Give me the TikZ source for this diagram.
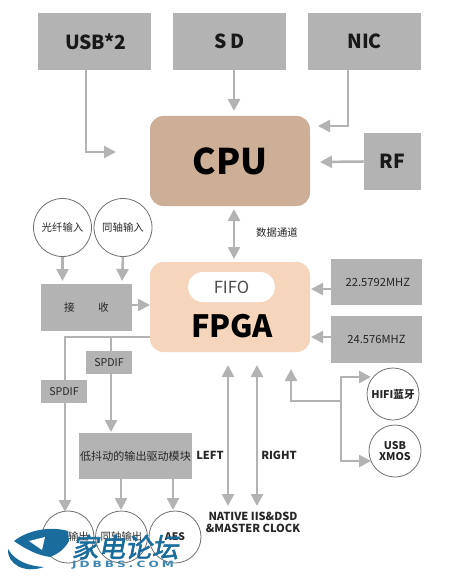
\documentclass[tikz,border=0pt]{standalone}
\usepackage{fontspec}
\setmainfont{Noto Sans CJK SC}
\newfontfamily\wmfont[FakeSlant=0.2,FakeBold=2]{Noto Sans CJK SC}
\newfontfamily\wmlatin[LetterSpace=25]{DejaVu Sans Bold}
\usetikzlibrary{arrows.meta}
\definecolor{boxgray}{HTML}{B3B3B3}
\definecolor{cpubrown}{HTML}{CDAE96}
\definecolor{fpgapeach}{HTML}{F5D6BC}
\definecolor{ringgray}{HTML}{707070}
\definecolor{txtdark}{HTML}{262626}
\definecolor{wmblue}{HTML}{1A6C9C}
\definecolor{wmlight}{HTML}{3F88B4}
\tikzset{
  x=0.75pt,y=-0.75pt,
  graybox/.style={fill=boxgray,draw=none,inner sep=0pt,text=txtdark},
  bigbox/.style={graybox,minimum width=85pt,minimum height=43pt,font=\bfseries\fontsize{14.5}{15}\selectfont,text=black!90},
  chip/.style={graybox,minimum width=34.5pt,minimum height=17.25pt,font=\fontsize{8}{8}\selectfont},
  clockbox/.style={graybox,minimum width=68pt,minimum height=35pt,font=\fontsize{8.4}{8.4}\selectfont},
  portc/.style={circle,draw=ringgray,line width=0.6pt,fill=white,minimum size=39pt,inner sep=0pt,font=\fontsize{7.8}{8}\selectfont,text=txtdark},
  wire/.style={draw=boxgray,line width=1.9pt,-{Triangle[length=9pt,width=9pt]}},
  dwire/.style={draw=boxgray,line width=1.9pt,{Triangle[length=9pt,width=9pt]}-{Triangle[length=9pt,width=9pt]}},
  plain/.style={draw=boxgray,line width=1.9pt},
  lab/.style={font=\bfseries\fontsize{8.3}{9}\selectfont,text=txtdark,inner sep=0pt,align=center},
}
\begin{document}
\begin{tikzpicture}
\useasboundingbox[fill=white] (0,0) rectangle (449,577);
% top row
\node[bigbox] (usb) at (94.5,41.5) {\hspace{2pt}USB*2};
\node[bigbox] (sd) at (229.5,41.5) {S D};
\node[bigbox] (nic) at (364.5,41.5) {NIC};
\node[graybox,minimum width=43pt,minimum height=43pt,font=\bfseries\fontsize{14.5}{15}\selectfont,text=black!90] (rf) at (392.5,161.5) {RF};
% processors
\node[fill=cpubrown,rounded corners=10pt,minimum width=120pt,minimum height=67.5pt,inner sep=0pt,font=\bfseries\fontsize{26.5}{28}\selectfont,text=black] (cpu) at (230,161) {CPU};
\node[fill=fpgapeach,rounded corners=10pt,minimum width=120pt,minimum height=67.5pt,inner sep=0pt] (fpga) at (230,307) {};
\node[fill=white,rounded corners=11pt,minimum width=65pt,minimum height=22.5pt,inner sep=0pt,font=\fontsize{12.5}{13}\selectfont,text=black!70] (fifo) at (231.5,287) {FIFO};
\node[font=\bfseries\fontsize{23}{23}\selectfont,text=black,inner sep=0pt] (fpgat) at (232,326) {FPGA};
% clocks
\node[clockbox,text width=68pt,align=center] (c1) at (376.5,282) {\hspace{2pt}22.5792MHZ};
\node[clockbox,text width=68pt,align=center] (c2) at (376.5,339.5) {24.576MHZ};
% inputs
\node[portc,minimum size=43.5pt] (opt) at (62.5,227.5) {光纤输入};
\node[portc,minimum size=43.5pt] (coax) at (123,227.5) {同轴输入};
\node[chip,minimum width=68pt,minimum height=35pt] (rx) at (86.5,307.5) {接\hspace{2.2em}收};
\node[chip] (sp1) at (109,362.5) {SPDIF};
\node[chip] (sp2) at (64,391.5) {SPDIF};
\node[graybox,minimum width=84.75pt,minimum height=34.5pt,font=\fontsize{8.3}{8.3}\selectfont] (drv) at (135.5,456) {低抖动的输出驱动模块};
% outputs
\node[portc] (o1) at (68,537) {光纤输出};
\node[portc] (o2) at (121.5,537) {同轴输出};
\node[portc,font=\bfseries\fontsize{7.8}{8}\selectfont] (o3) at (175,537) {AES};
% right ports
\node[portc,font=\bfseries\fontsize{8}{9}\selectfont,text=black!85] (hifi) at (393,394) {HIFI蓝牙};
\node[portc,font=\bfseries\fontsize{8}{9}\selectfont,text=black!85,align=center] (xmos) at (395,451) {USB\\[-1pt]XMOS};
% free ends
\coordinate (usbT) at (116,152);
\coordinate (usbB) at (86,70);
\coordinate (sdB) at (234,70);
\coordinate (sdT) at (234,111);
\coordinate (nicB) at (348,70);
\coordinate (nicT) at (318,126);
\coordinate (rfT) at (320,162);
\coordinate (cf1) at (234,209);
\coordinate (cf2) at (234,259);
\coordinate (rxTo) at (150,305);
\coordinate (fl) at (150,337);
\coordinate (l1) at (228,365);
\coordinate (l2) at (228,506);
\coordinate (r1) at (257,365);
\coordinate (r2) at (257,506);
\coordinate (m) at (291,369);
\coordinate (mj) at (341,401);
% connectors
\draw[wire] (usbB) -- (86,152) -- (usbT);
\draw[wire] (sdB) -- (sdT);
\draw[wire] (nicB) -- (348,126) -- (nicT);
\draw[wire] (rf.west) -- (rfT);
\draw[dwire] (cf1) -- (cf2);
\draw[wire] (opt.south) -- (62.5,281);
\draw[wire] (coax.south) -- (122,281);
\draw[wire] (rx.east|-rxTo) -- (rxTo);
\draw[wire] (c1.west|-0,289) -- (311,289);
\draw[wire] (c2.west|-0,337) -- (311,337);
\draw[plain] (fl) -- (65,337) -- (sp2.north-|65,0);
\draw[wire] (sp2.south-|65,0) -- (65,512);
\draw[plain] (111,337) -- (sp1.north-|111,0);
\draw[wire] (sp1.south-|111,0) -- (111,432);
\draw[wire] (121,479) -- (121,510);
\draw[wire] (173,479) -- (173,510);
\draw[dwire] (l1) -- (l2);
\draw[dwire] (r1) -- (r2);
\draw[wire] (mj) -- (291,401) -- (m);
\draw[wire] (mj) -- (341,377) -- (371,377);
\draw[wire] (mj) -- (341,461) -- (371,461);
% labels
\node[font=\fontsize{7.8}{9}\selectfont,text=txtdark,inner sep=0pt] (data) at (277,233) {数据通道};
\node[lab] (left) at (210,455) {LEFT};
\node[lab] (right) at (279,455) {RIGHT};
\node[lab,font=\bfseries\fontsize{8.3}{9}\selectfont] (native) at (253,522) {NATIVE IIS\&DSD\\\&MASTER CLOCK};
% watermark
\fill[wmblue] (14,541) .. controls (28,530) and (50,526) .. (68,531) -- (69,541) .. controls (65,548) and (60,553) .. (50,557) .. controls (36,555) and (24,548) .. (14,541) -- cycle;
\fill[white] (29,541) -- (45,537) -- (42,550) -- cycle;
\fill[wmblue] (8,549) .. controls (7,564) and (24,574) .. (44,567) .. controls (28,566) and (15,561) .. (8,549) -- cycle;
\node[font=\wmfont\fontsize{20}{20}\selectfont,text=wmblue,inner sep=0pt] (wm) at (125,547) {家电论坛};
\node[text=wmlight,inner sep=0pt] (wm2) at (123,565) {\scalebox{1.4}[1]{\wmlatin\fontsize{6.5}{6.5}\selectfont JDBBS.COM}};
\end{tikzpicture}
\end{document}
